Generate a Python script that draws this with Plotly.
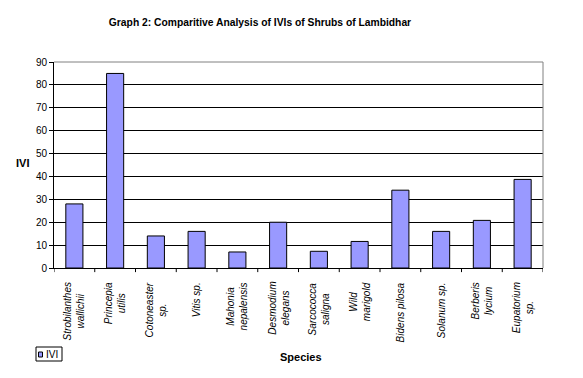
import plotly.graph_objects as go

species = ["Strobilanthes<br>wallichii", "Princepia<br>utilis", "Cotoneaster<br>sp.", "Vitis sp.",
           "Mahonia<br>nepalensis", "Desmodium<br>elegans", "Sarcococca<br>saligna", "Wild<br>marigold",
           "Bidens pilosa", "Solanum sp.", "Berberis<br>lycium", "Eupatorium<br>sp."]
ivi = [28, 85, 14, 16, 7, 20, 7.3, 11.6, 34, 16, 20.8, 38.7]
y_ticks = [0, 10, 20, 30, 40, 50, 60, 70, 80, 90]
series_name = "IVI"

FONT = "Liberation Sans, Arial, sans-serif"
BAR_COLOR = "#9999FF"
cats = list(range(len(species)))

# plot area in pixels
L, R, T, B = 54, 543, 62, 268
W, H = R - L, B - T
def px(x): return (x - L) / W
def py(y): return (B - y) / H

fig = go.Figure()
fig.add_trace(go.Bar(x=cats, y=ivi, name=series_name,
                     marker=dict(color=BAR_COLOR, line=dict(color="black", width=1)),
                     width=0.42, showlegend=False))

annotations = []
for i, s in enumerate(species):
    annotations.append(dict(x=i, y=py(280), xref="x", yref="paper", text="<i>" + s + "</i>",
                            textangle=-90, showarrow=False, yanchor="top", xanchor="center",
                            align="center", font=dict(family=FONT, size=10, color="black")))
annotations.append(dict(x=px(22), y=py(163), xref="paper", yref="paper", text="<b>IVI</b>",
                        showarrow=False, xanchor="center", yanchor="middle",
                        font=dict(family=FONT, size=11, color="black")))
annotations.append(dict(x=px(301), y=py(357), xref="paper", yref="paper", text="<b>Species</b>",
                        showarrow=False, xanchor="center", yanchor="middle",
                        font=dict(family=FONT, size=11, color="black")))
# legend text
annotations.append(dict(x=px(44), y=py(354.5), xref="paper", yref="paper", text=series_name,
                        showarrow=False, xanchor="left", yanchor="middle",
                        font=dict(family=FONT, size=10, color="black")))

fig.update_layout(
    width=583, height=378,
    margin=dict(l=L, r=583 - R, t=T, b=378 - B),
    paper_bgcolor="white", plot_bgcolor="white",
    title=dict(text="<b>Graph 2: Comparitive Analysis of IVIs of Shrubs of Lambidhar</b>",
               x=260 / 583, xanchor="center", y=1 - 22 / 378, yanchor="middle",
               font=dict(family=FONT, size=10.3, color="black")),
    showlegend=False,
    xaxis=dict(range=[-0.5, len(species) - 0.5], tickvals=cats, showticklabels=False,
               ticks="", showline=True, linecolor="black", linewidth=1, mirror=False,
               showgrid=False, zeroline=False),
    yaxis=dict(range=[0, 90], tickvals=y_ticks, ticks="outside", ticklen=4, tickcolor="black",
               showline=True, linecolor="black", linewidth=1, gridcolor="black", gridwidth=1,
               zeroline=False, tickfont=dict(family=FONT, size=10, color="black")),
    annotations=annotations,
    bargap=0.58,
)

shapes = [
    dict(type="line", xref="paper", yref="paper", x0=0, x1=1, y0=1, y1=1, line=dict(color="#808080", width=1)),
    dict(type="line", xref="paper", yref="paper", x0=1, x1=1, y0=0, y1=1, line=dict(color="#808080", width=1)),
    # legend box and swatch
    dict(type="rect", xref="paper", yref="paper", x0=px(36), x1=px(62), y0=py(347), y1=py(361),
         line=dict(color="black", width=1), fillcolor="white"),
    dict(type="rect", xref="paper", yref="paper", x0=px(38.5), x1=px(42.5), y0=py(352), y1=py(357),
         line=dict(color="black", width=1), fillcolor=BAR_COLOR),
]
for i in range(len(species) + 1):
    shapes.append(dict(type="line", xref="x", yref="paper", x0=i - 0.5, x1=i - 0.5, y0=0, y1=-0.02,
                       line=dict(color="black", width=1)))
fig.update_layout(shapes=shapes)

fig.write_html("out.html", config={"displayModeBar": False},
               post_script="document.body.style.margin='0';")
